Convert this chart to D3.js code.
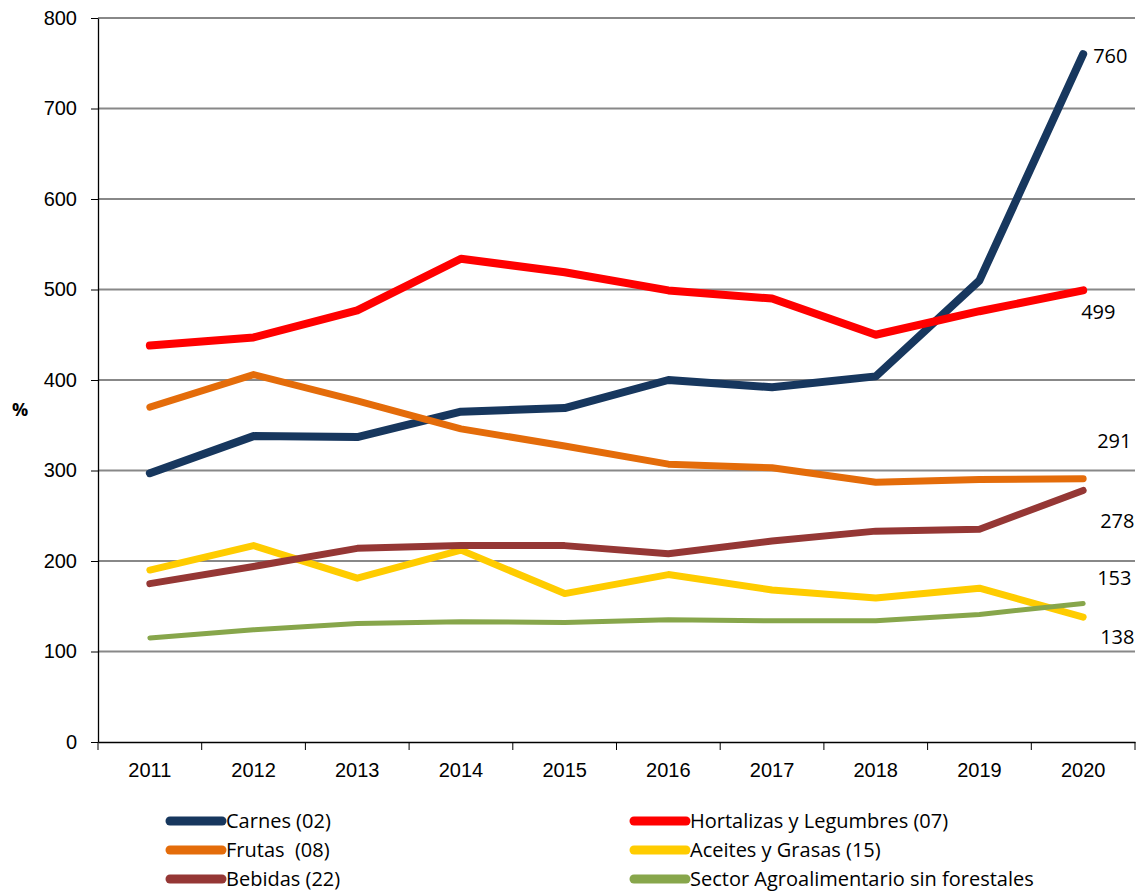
<!DOCTYPE html>
<html lang="es">
<head>
<meta charset="UTF-8">
<title>Exportaciones agroalimentarias</title>
<script src="https://d3js.org/d3.v7.min.js"></script>
<style>
    body { margin: 0; background: #fff; font-family: "Open Sans", Arial, sans-serif; }
    .grid line { stroke: #888; stroke-width: 2px; }
    .axis text { font-size: 20px; fill: #000; }
    .axis path, .axis line { stroke: #000; }
    .series { fill: none; stroke-linejoin: round; stroke-linecap: round; }
    .end-label { font-size: 20px; fill: #000; }
    .legend text { font-size: 20px; fill: #000; white-space: pre; }
</style>
</head>
<body>
<svg width="1142" height="894"></svg>
<script>
// years on the x axis
const years = ["2011", "2012", "2013", "2014", "2015", "2016", "2017", "2018", "2019", "2020"];

// values (%)
const carnes     = [297, 338, 337, 365, 369, 400, 392, 404, 510, 760];
const hortalizas = [438, 447, 477, 534, 519, 499, 490, 450, 476, 499];
const frutas     = [370, 406, 377, 346, 327, 307, 303, 287, 290, 291];
const aceites    = [190, 217, 181, 212, 164, 185, 168, 159, 170, 138];
const bebidas    = [175, 194, 214, 217, 217, 208, 222, 233, 235, 278];
const sector     = [115, 124, 131, 133, 132, 135, 134, 134, 141, 153];

const yTicks = [0, 100, 200, 300, 400, 500, 600, 700, 800];

const seriesNames = ["Carnes (02)", "Hortalizas y Legumbres (07)", "Frutas  (08)",
    "Aceites y Grasas (15)", "Bebidas (22)", "Sector Agroalimentario sin forestales"];
const seriesValues = [carnes, hortalizas, frutas, aceites, bebidas, sector];
const seriesColors = ["#17375e", "#ff0000", "#e46c0a", "#ffcc00", "#953735", "#87a64b"];
const seriesWidths = [8, 8, 7, 7, 7, 5];

// end-of-line labels: series index, dx, dy offsets from the last point
const endLabels = [
    { s: 0, dx: 10, dy: 2 },
    { s: 1, dx: -2, dy: 22 },
    { s: 2, dx: 14, dy: -38 },
    { s: 4, dx: 17, dy: 31 },
    { s: 5, dx: 14, dy: -26 },
    { s: 3, dx: 17, dy: 20 }
];

const svg = d3.select("svg");
const margin = { left: 98, right: 7, top: 18, bottom: 152 };
const W = 1142, H = 894;

const x = d3.scaleBand().domain(years).range([margin.left, W - margin.right]);
const y = d3.scaleLinear().domain([0, 800]).range([H - margin.bottom, margin.top]);

// gridlines
svg.append("g").attr("class", "grid")
    .selectAll("line").data(yTicks.filter(d => d > 0)).join("line")
    .attr("x1", margin.left).attr("x2", W - margin.right)
    .attr("y1", d => y(d)).attr("y2", d => y(d));

// y axis
const yAxis = svg.append("g").attr("class", "axis")
    .attr("transform", `translate(${margin.left},0)`)
    .call(d3.axisLeft(y).tickValues(yTicks).tickSize(7).tickPadding(14).tickSizeOuter(0));
yAxis.select(".domain").attr("stroke-width", 1.3);

// x axis with ticks on band boundaries
const xAxis = svg.append("g").attr("class", "axis")
    .attr("transform", `translate(0,${y(0)})`)
    .call(d3.axisBottom(x).tickSize(0).tickPadding(21).tickSizeOuter(0));
xAxis.select(".domain").attr("stroke-width", 1.3);
xAxis.selectAll(".bound").data(years.concat(["end"])).join("line")
    .attr("class", "bound")
    .attr("x1", (d, i) => margin.left + i * x.step())
    .attr("x2", (d, i) => margin.left + i * x.step())
    .attr("y1", 0).attr("y2", 8).attr("stroke", "#000");

svg.append("text").attr("x", 20).attr("y", y(400) + 36)
    .attr("text-anchor", "middle").attr("font-size", 18).attr("font-weight", "bold")
    .text("%");

const line = d3.line()
    .x((d, i) => x(years[i]) + x.bandwidth() / 2)
    .y(d => y(d));

const drawOrder = [0, 2, 1, 3, 4, 5];
svg.append("g").selectAll("path").data(drawOrder).join("path")
    .attr("class", "series")
    .attr("d", s => line(seriesValues[s]))
    .attr("stroke", s => seriesColors[s])
    .attr("stroke-width", s => seriesWidths[s]);

const lastX = x(years[years.length - 1]) + x.bandwidth() / 2;
svg.append("g").selectAll("text").data(endLabels).join("text")
    .attr("class", "end-label")
    .attr("x", d => lastX + d.dx)
    .attr("y", d => y(seriesValues[d.s][years.length - 1]) + d.dy)
    .attr("dy", "0.35em")
    .text(d => seriesValues[d.s][years.length - 1]);

// legend, two columns
const legend = svg.append("g").attr("class", "legend");
const legItems = legend.selectAll("g").data(seriesNames).join("g")
    .attr("transform", (d, i) => `translate(${i % 2 === 0 ? 170 : 634},${821 + Math.floor(i / 2) * 29})`);
legItems.append("line")
    .attr("x1", 0).attr("x2", 52).attr("y1", 0).attr("y2", 0)
    .attr("stroke", (d, i) => seriesColors[i])
    .attr("stroke-width", 9).attr("stroke-linecap", "round");
legItems.append("text")
    .attr("x", 56).attr("y", 0).attr("dy", "0.35em")
    .text(d => d);
</script>
</body>
</html>
